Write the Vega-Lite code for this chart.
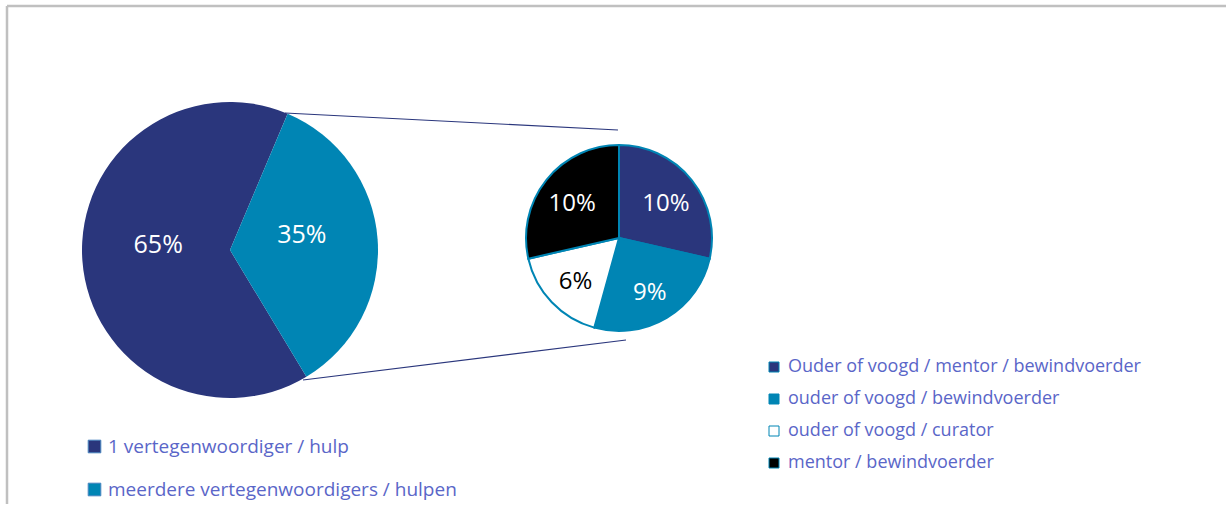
{
  "$schema": "https://vega.github.io/schema/vega-lite/v6.json",
  "padding": 0,
  "background": "white",
  "spacing": 0,
  "bounds": "flush",
  "config": {"view": {"stroke": null}, "font": "Open Sans"},
  "hconcat": [
    {
      "width": 460,
      "height": 500,
      "data": {"values": [
        {"cat": "1 vertegenwoordiger / hulp", "v": 0.65, "k": 2},
        {"cat": "meerdere vertegenwoordigers / hulpen", "v": 0.35, "k": 1}
      ]},
      "layer": [
        {
          "mark": {"type": "arc", "outerRadius": 148},
          "encoding": {
            "theta": {"field": "v", "type": "quantitative", "stack": true, "scale": {"range": [0.40, 6.683]}},
            "order": {"field": "k", "type": "quantitative"},
            "color": {
              "field": "cat", "type": "nominal",
              "scale": {"domain": ["1 vertegenwoordiger / hulp", "meerdere vertegenwoordigers / hulpen"], "range": ["#2a367c", "#0085b4"]},
              "legend": {"title": null, "orient": "none", "legendX": 85, "legendY": 437, "symbolType": "square", "symbolSize": 160, "labelFontSize": 19, "labelColor": "#5a66c8", "rowPadding": 23, "labelOffset": 4, "labelLimit": 0, "padding": 0, "symbolStrokeWidth": 1, "symbolStrokeColor": "#4a86c0", "labelFont": "Open Sans"}
            }
          }
        },
        {
          "mark": {"type": "text", "radius": 72, "fontSize": 25, "fill": "white", "dy": -10, "font": "Open Sans"},
          "encoding": {
            "theta": {"field": "v", "type": "quantitative", "stack": true},
            "order": {"field": "k", "type": "quantitative"},
            "text": {"field": "v", "type": "quantitative", "format": ".0%"}
          }
        },
        {
          "data": {"values": [{}]},
          "mark": {"type": "rule", "stroke": "#c0c0c0", "strokeWidth": 2.5},
          "encoding": {"x": {"value": 7}, "x2": {"value": 1226}, "y": {"value": 6}, "y2": {"value": 6}}
        },
        {
          "data": {"values": [{}]},
          "mark": {"type": "rule", "stroke": "#c0c0c0", "strokeWidth": 2.5},
          "encoding": {"x": {"value": 7}, "x2": {"value": 7}, "y": {"value": 6}, "y2": {"value": 504}}
        }
      ]
    },
    {
      "width": 318,
      "height": 476,
      "data": {"values": [
        {"cat": "Ouder of voogd / mentor / bewindvoerder", "v": 0.10, "k": 1},
        {"cat": "ouder of voogd / bewindvoerder", "v": 0.09, "k": 2},
        {"cat": "ouder of voogd / curator", "v": 0.06, "k": 3},
        {"cat": "mentor / bewindvoerder", "v": 0.10, "k": 4}
      ]},
      "layer": [
        {
          "data": {"values": [{}]},
          "mark": {"type": "rule", "stroke": "#2a367c", "strokeWidth": 1.2},
          "encoding": {"x": {"value": -175}, "x2": {"value": 158}, "y": {"value": 113}, "y2": {"value": 130}}
        },
        {
          "data": {"values": [{}]},
          "mark": {"type": "rule", "stroke": "#2a367c", "strokeWidth": 1.2},
          "encoding": {"x": {"value": -157}, "x2": {"value": 166}, "y": {"value": 380}, "y2": {"value": 340}}
        },
        {
          "mark": {"type": "arc", "outerRadius": 93, "stroke": "#0085b4", "strokeWidth": 2},
          "encoding": {
            "theta": {"field": "v", "type": "quantitative", "stack": true},
            "order": {"field": "k", "type": "quantitative"},
            "color": {
              "field": "cat", "type": "nominal",
              "scale": {"domain": ["Ouder of voogd / mentor / bewindvoerder", "ouder of voogd / bewindvoerder", "ouder of voogd / curator", "mentor / bewindvoerder"], "range": ["#2a367c", "#0085b4", "#ffffff", "#000000"]},
              "legend": {"title": null, "orient": "none", "legendX": 305, "legendY": 358, "symbolType": "square", "symbolSize": 100, "labelFontSize": 18, "labelColor": "#5a66c8", "rowPadding": 14, "labelOffset": 5, "labelLimit": 0, "padding": 0, "symbolStrokeWidth": 1, "symbolStrokeColor": "#0085b4", "labelFont": "Open Sans"}
            }
          }
        },
        {
          "mark": {"type": "text", "radius": 60, "fontSize": 24, "font": "Open Sans", "dy": 3},
          "encoding": {
            "theta": {"field": "v", "type": "quantitative", "stack": true},
            "order": {"field": "k", "type": "quantitative"},
            "text": {"field": "v", "type": "quantitative", "format": ".0%"},
            "color": {"condition": {"test": "datum.cat === 'ouder of voogd / curator'", "value": "black"}, "value": "white"}
          }
        }
      ],
      "resolve": {"scale": {"theta": "shared"}}
    }
  ],
  "resolve": {"scale": {"color": "independent", "theta": "independent"}, "legend": {"color": "independent"}}
}
